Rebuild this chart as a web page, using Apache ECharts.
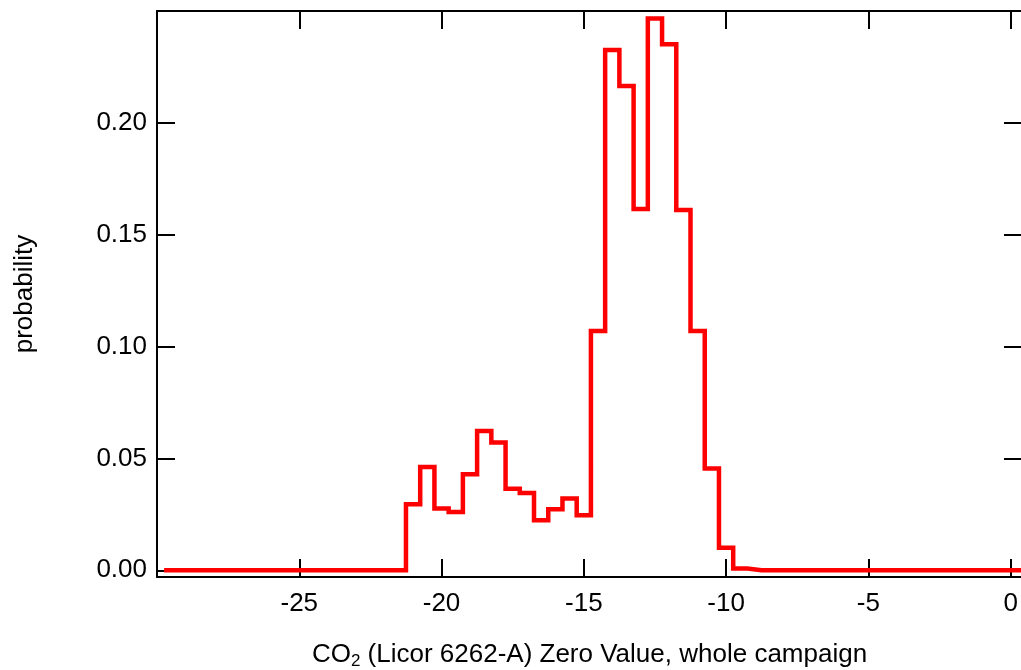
<!DOCTYPE html>
<html>
<head>
<meta charset="utf-8">
<script src="https://cdn.jsdelivr.net/npm/echarts@6/dist/echarts.min.js"></script>
<style>
html,body{margin:0;padding:0;background:#fff;}
#chart{width:1021px;height:670px;}
</style>
</head>
<body>
<div id="chart"></div>
<script>
// Histogram of CO2 (Licor 6262-A) zero values
const binStart = -29.75;   // left edge of first bin
const binWidth = 0.5;
const probability = [
  0, 0, 0, 0, 0, 0, 0, 0, 0, 0, 0, 0, 0, 0, 0, 0, 0,
  0.0295, 0.0462, 0.0276, 0.0261, 0.0429, 0.0623, 0.0571, 0.0365, 0.0346,
  0.0224, 0.0273, 0.0321, 0.0246,
  0.107, 0.2326, 0.2165, 0.1615, 0.2467, 0.2351, 0.161, 0.107, 0.0455, 0.0101, 0.0008,
  0, 0, 0, 0, 0, 0, 0, 0, 0, 0, 0, 0, 0, 0, 0, 0, 0, 0, 0, 0
];
const yTicks = [0, 0.05, 0.10, 0.15, 0.20];
const xAxisTitle = 'CO{sub|2} (Licor 6262-A) Zero Value, whole campaign';
const yAxisTitle = 'probability';

const points = probability.map((v, i) => [binStart + i * binWidth, v]);
points.push([binStart + probability.length * binWidth, probability[probability.length - 1]]);

const FONT = 'Liberation Sans';
const FS = 26;
const axisLineStyle = { color: '#000', width: 2 };

const chart = echarts.init(document.getElementById('chart'));
chart.setOption({
  animation: false,
  backgroundColor: '#fff',
  textStyle: { fontFamily: FONT },
  grid: { left: 157, top: 11, width: 865, height: 566, outerBoundsMode: 'none', containLabel: false },
  xAxis: [
    {
      type: 'value', position: 'bottom', min: -30, max: 0.4, interval: 5,
      axisLine: { show: true, onZero: false, lineStyle: axisLineStyle },
      axisTick: { show: true, inside: true, length: 18, lineStyle: axisLineStyle },
      axisLabel: { show: true, showMinLabel: false, showMaxLabel: false, color: '#000', fontSize: FS, fontFamily: FONT, margin: 14 },
      splitLine: { show: false },
      name: xAxisTitle, nameLocation: 'middle', nameGap: 63,
      nameTextStyle: {
        color: '#000', fontSize: FS, fontFamily: FONT,
        rich: { sub: { fontSize: 17, fontFamily: FONT, color: '#000', padding: [13, 0, 0, 0] } }
      }
    },
    {
      type: 'value', position: 'top', min: -30, max: 0.4, interval: 5,
      axisLine: { show: true, onZero: false, lineStyle: axisLineStyle },
      axisTick: { show: true, inside: true, length: 18, lineStyle: axisLineStyle },
      axisLabel: { show: false },
      splitLine: { show: false }
    }
  ],
  yAxis: [
    {
      type: 'value', position: 'left', min: -0.003, max: 0.25,
      axisLine: { show: true, onZero: false, lineStyle: axisLineStyle },
      axisTick: { show: true, inside: true, length: 18, lineStyle: axisLineStyle, customValues: yTicks },
      axisLabel: { show: true, color: '#000', fontSize: FS, fontFamily: FONT, margin: 10, customValues: yTicks,
        formatter: v => v.toFixed(2) },
      splitLine: { show: false },
      name: yAxisTitle, nameLocation: 'middle', nameGap: 119,
      nameTextStyle: { color: '#000', fontSize: FS, fontFamily: FONT }
    },
    {
      type: 'value', position: 'right', min: -0.003, max: 0.25,
      axisLine: { show: true, onZero: false, lineStyle: axisLineStyle },
      axisTick: { show: true, inside: true, length: 18, lineStyle: axisLineStyle, customValues: yTicks },
      axisLabel: { show: false, customValues: yTicks },
      splitLine: { show: false }
    }
  ],
  series: [{
    type: 'line',
    xAxisIndex: 0, yAxisIndex: 0,
    step: 'end',
    data: points,
    symbol: 'none',
    clip: true,
    lineStyle: { color: '#ff0000', width: 4.5, join: 'miter' },
    itemStyle: { color: '#ff0000' }
  }]
});
</script>
</body>
</html>
